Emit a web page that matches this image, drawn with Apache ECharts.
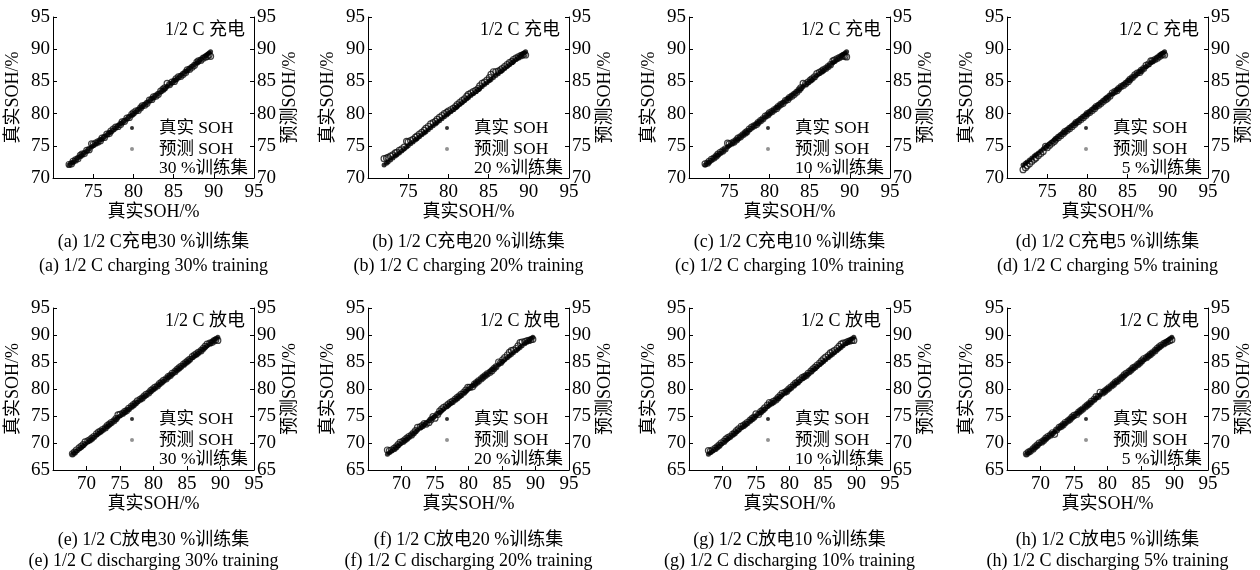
<!DOCTYPE html>
<html>
<head>
<meta charset="utf-8">
<script src="https://cdn.jsdelivr.net/npm/echarts@6/dist/echarts.min.js"></script>
<style>
  html, body { margin: 0; padding: 0; background: #fff; }
  #chart { width: 1260px; height: 570px; }
</style>
</head>
<body>
<div id="chart"></div>
<script>
// True SOH sequences (%) for the 1/2 C charging and discharging tests
const chargeTrue = [72.0, 72.3, 72.5, 72.8, 73.1, 73.4, 73.6, 73.9, 74.2, 74.5, 74.8, 75.0, 75.3, 75.6, 75.9, 76.1, 76.4, 76.7, 77.0, 77.2, 77.5, 77.8, 78.1, 78.4, 78.6, 78.9, 79.2, 79.5, 79.8, 80.0, 80.3, 80.6, 80.9, 81.1, 81.4, 81.7, 82.0, 82.3, 82.5, 82.8, 83.1, 83.4, 83.7, 83.9, 84.2, 84.5, 84.8, 85.1, 85.3, 85.6, 85.9, 86.2, 86.5, 86.7, 87.0, 87.3, 87.6, 87.9, 88.1, 88.4, 88.7, 89.0, 89.2, 89.4, 89.6];
const dischargeTrue = [67.9, 68.2, 68.5, 68.9, 69.2, 69.5, 69.8, 70.2, 70.5, 70.8, 71.1, 71.5, 71.8, 72.1, 72.4, 72.8, 73.1, 73.4, 73.7, 74.1, 74.4, 74.7, 75.0, 75.4, 75.7, 76.0, 76.3, 76.7, 77.0, 77.3, 77.6, 78.0, 78.3, 78.6, 78.9, 79.3, 79.6, 79.9, 80.2, 80.6, 80.9, 81.2, 81.5, 81.9, 82.2, 82.5, 82.8, 83.2, 83.5, 83.8, 84.1, 84.5, 84.8, 85.1, 85.4, 85.8, 86.1, 86.4, 86.7, 87.1, 87.4, 87.7, 88.0, 88.4, 88.7, 89.0, 89.3, 89.6];

// Predicted SOH (%) for each training-set share, aligned with the true sequences
const chargePred30 = [72.1, 72.2, 72.6, 72.8, 73.0, 73.5, 73.7, 73.8, 74.3, 74.4, 75.3, 75.2, 75.4, 75.6, 75.8, 76.2, 76.3, 76.8, 76.9, 77.3, 77.6, 77.9, 78.0, 78.3, 78.7, 78.8, 79.3, 79.4, 79.9, 80.1, 80.4, 80.5, 80.9, 81.2, 81.3, 81.6, 82.1, 82.2, 82.6, 82.7, 83.0, 83.5, 83.8, 84.0, 84.7, 84.5, 84.9, 85.0, 85.4, 85.7, 85.8, 86.1, 86.4, 86.8, 86.9, 87.2, 87.5, 88.0, 88.2, 88.3, 88.6, 88.8, 88.9, 89.1, 88.9];
const chargePred20 = [73.0, 73.1, 73.2, 73.4, 73.6, 73.9, 74.0, 74.3, 74.5, 74.8, 75.7, 75.6, 75.8, 76.0, 76.3, 76.5, 76.8, 77.1, 77.4, 77.7, 78.0, 78.4, 78.6, 78.8, 79.1, 79.4, 79.7, 80.0, 80.2, 80.4, 80.6, 80.8, 81.1, 81.4, 81.7, 82.0, 82.3, 82.7, 83.0, 83.2, 83.4, 83.6, 83.9, 84.3, 84.7, 84.9, 85.2, 85.6, 86.1, 86.5, 86.5, 86.6, 86.8, 87.0, 87.3, 87.6, 87.9, 88.1, 88.4, 88.6, 88.8, 89.0, 89.1, 89.2, 89.1];
const chargePred10 = [72.2, 72.3, 72.6, 72.9, 73.1, 73.4, 73.7, 74.0, 74.2, 74.5, 75.4, 75.3, 75.4, 75.6, 75.9, 76.2, 76.4, 76.7, 77.0, 77.2, 77.6, 77.9, 78.1, 78.3, 78.6, 78.9, 79.2, 79.6, 79.8, 80.1, 80.3, 80.6, 80.8, 81.1, 81.4, 81.6, 82.0, 82.2, 82.5, 82.7, 83.0, 83.3, 83.7, 84.0, 84.7, 84.6, 84.9, 85.2, 85.4, 85.7, 86.2, 86.4, 86.6, 86.8, 87.0, 87.3, 87.6, 88.2, 88.3, 88.5, 88.7, 88.9, 89.0, 88.9, 88.8];
const chargePred5 = [71.3, 71.6, 71.9, 72.2, 72.6, 72.9, 73.1, 73.5, 73.8, 74.1, 74.9, 74.7, 75.1, 75.4, 75.7, 76.0, 76.3, 76.6, 76.9, 77.2, 77.4, 77.7, 78.0, 78.3, 78.6, 78.8, 79.1, 79.4, 79.7, 80.0, 80.2, 80.5, 80.8, 81.1, 81.3, 81.6, 81.9, 82.2, 82.4, 82.7, 83.2, 83.4, 83.6, 83.9, 84.2, 84.4, 84.7, 85.0, 85.3, 85.6, 86.0, 86.3, 86.4, 86.7, 87.0, 87.5, 87.7, 88.2, 88.2, 88.4, 88.6, 88.9, 89.1, 89.2, 89.1];

const dischargePred30 = [68.0, 68.3, 68.7, 69.1, 69.4, 69.7, 70.2, 70.4, 70.6, 70.9, 71.2, 71.7, 72.0, 72.2, 72.5, 72.8, 73.2, 73.5, 73.8, 74.1, 74.5, 75.2, 75.3, 75.5, 75.8, 76.0, 76.4, 76.8, 77.1, 77.4, 77.8, 78.1, 78.3, 78.7, 79.0, 79.3, 79.7, 80.0, 80.3, 80.6, 81.0, 81.3, 81.6, 81.9, 82.3, 82.5, 82.9, 83.2, 83.6, 83.9, 84.2, 84.6, 84.9, 85.2, 85.5, 86.0, 86.3, 86.5, 86.8, 87.1, 87.5, 87.9, 88.3, 88.5, 88.6, 88.9, 89.1, 89.0];
const dischargePred20 = [68.7, 68.6, 68.7, 69.0, 69.3, 69.7, 70.1, 70.3, 70.6, 70.9, 71.2, 71.5, 71.9, 72.3, 72.9, 73.0, 73.2, 73.6, 73.5, 73.8, 74.3, 74.9, 74.6, 75.3, 75.9, 76.3, 76.6, 76.9, 77.2, 77.5, 77.7, 78.1, 78.4, 78.7, 79.0, 79.4, 79.8, 80.3, 80.3, 80.4, 80.9, 81.2, 81.5, 81.9, 82.2, 82.5, 82.8, 83.1, 83.4, 83.8, 84.1, 85.0, 84.9, 85.4, 85.8, 86.3, 86.8, 87.1, 87.2, 87.5, 88.0, 88.6, 88.7, 88.8, 88.9, 89.0, 89.1, 89.2];
const dischargePred10 = [68.6, 68.5, 68.7, 69.0, 69.3, 69.6, 70.0, 70.3, 70.7, 71.0, 71.2, 71.6, 71.9, 72.3, 72.6, 73.1, 73.2, 73.5, 73.8, 74.2, 74.5, 74.8, 75.4, 75.3, 75.8, 76.1, 76.5, 77.0, 77.5, 77.4, 77.7, 78.0, 78.4, 78.8, 79.2, 79.4, 79.6, 80.0, 80.3, 80.7, 81.1, 81.3, 81.7, 82.1, 82.3, 82.5, 82.9, 83.3, 83.7, 84.0, 84.4, 84.8, 85.2, 85.6, 85.9, 86.3, 86.7, 86.9, 87.1, 87.5, 87.9, 88.3, 88.5, 88.6, 88.8, 88.9, 89.0, 89.0];
const dischargePred5 = [68.0, 68.3, 68.5, 68.9, 69.3, 69.6, 70.0, 70.2, 70.5, 70.9, 71.2, 71.5, 71.9, 71.6, 72.4, 72.9, 73.1, 73.4, 73.8, 74.1, 74.4, 74.8, 75.1, 75.3, 75.7, 76.0, 76.3, 76.7, 77.0, 77.3, 77.7, 78.1, 78.6, 78.6, 79.4, 79.3, 79.6, 79.9, 80.2, 80.6, 80.9, 81.3, 81.5, 81.9, 82.2, 82.6, 82.9, 83.2, 83.5, 83.9, 84.1, 84.5, 84.8, 85.2, 85.6, 85.8, 86.1, 86.4, 86.7, 87.1, 87.5, 87.8, 88.1, 88.4, 88.6, 88.8, 89.0, 89.1];

// Panel text
const trainShares = ['30', '20', '10', '5'];
const panelLetters = ['a', 'b', 'c', 'd', 'e', 'f', 'g', 'h'];
const modeCn = ['充电', '放电'];
const modeEn = ['charging', 'discharging'];
const axisMins = [70, 65];
const axisMax = 95;
const axisStep = 5;

const chargePreds = [chargePred30, chargePred20, chargePred10, chargePred5];
const dischargePreds = [dischargePred30, dischargePred20, dischargePred10, dischargePred5];

// Layout
const FONT = '"Liberation Serif", "Times New Roman", "Noto Sans CJK SC", serif';
const gridLefts = [53, 368, 689, 1007];
const gridWidth = 201;
const rowTops = [17, 308];
const rowHeights = [161, 162];
const captionY = [[233, 257], [531, 552]];

const chart = echarts.init(document.getElementById('chart'), null, { renderer: 'canvas' });

const grids = [], xAxes = [], yAxes = [], series = [], legends = [], titles = [];

const axisLineStyle = { show: true, lineStyle: { color: '#000', width: 1 } };
const tickStyle = { show: true, inside: true, length: 4, lineStyle: { color: '#000', width: 1 } };
const nameStyle = { fontSize: 18, color: '#000', fontFamily: FONT };
const tickFont = { fontSize: 19, color: '#000', fontFamily: FONT };

for (let r = 0; r < 2; r++) {
  for (let c = 0; c < 4; c++) {
    const idx = r * 4 + c;
    const left = gridLefts[c];
    const top = rowTops[r];
    const right = left + gridWidth;
    const trueVals = r === 0 ? chargeTrue : dischargeTrue;
    const predVals = r === 0 ? chargePreds[c] : dischargePreds[c];
    const min = axisMins[r];

    grids.push({ left: left, top: top, width: gridWidth, height: rowHeights[r], containLabel: false });

    xAxes.push({
      gridIndex: idx, type: 'value', min: min, max: axisMax, interval: axisStep,
      axisLine: axisLineStyle, axisTick: tickStyle, splitLine: { show: false },
      axisLabel: Object.assign({ showMinLabel: false, margin: 5 }, tickFont),
      name: '真实SOH/%', nameLocation: 'middle', nameGap: 25, nameTextStyle: nameStyle
    });

    yAxes.push({
      gridIndex: idx, type: 'value', position: 'left', min: min, max: axisMax, interval: axisStep,
      axisLine: axisLineStyle, axisTick: tickStyle, splitLine: { show: false },
      axisLabel: Object.assign({ margin: 3 }, tickFont),
      name: '真实SOH/%', nameLocation: 'middle', nameRotate: 90, nameGap: 31, nameTextStyle: nameStyle
    });
    yAxes.push({
      gridIndex: idx, type: 'value', position: 'right', min: min, max: axisMax, interval: axisStep,
      axisLine: axisLineStyle, axisTick: tickStyle, splitLine: { show: false },
      axisLabel: Object.assign({ margin: 3 }, tickFont),
      name: '预测SOH/%', nameLocation: 'middle', nameRotate: 90, nameGap: 27, nameTextStyle: nameStyle
    });

    series.push({
      name: '预测 SOH', type: 'scatter', xAxisIndex: idx, yAxisIndex: idx * 2 + 1,
      data: trueVals.map((v, i) => [v, predVals[i]]),
      symbol: 'circle', symbolSize: 6,
      itemStyle: { color: 'rgba(255,255,255,0)', borderColor: '#111', borderWidth: 1.2 },
      silent: true, z: 2
    });
    series.push({
      name: '真实 SOH', type: 'scatter', xAxisIndex: idx, yAxisIndex: idx * 2,
      data: trueVals.map(v => [v, v]),
      symbol: 'circle', symbolSize: 5,
      itemStyle: { color: '#000' },
      silent: true, z: 3
    });

    legends.push({
      left: right - 124, top: top + 102, orient: 'vertical', padding: 0,
      itemWidth: 4, itemHeight: 4, itemGap: 3, selectedMode: false,
      data: [
        { name: '真实 SOH', icon: 'circle', itemStyle: { color: '#000', borderWidth: 0 } },
        { name: '预测 SOH', icon: 'circle', itemStyle: { color: '#777', borderWidth: 0 } }
      ],
      textStyle: { fontSize: 17.5, color: '#000', fontFamily: FONT, lineHeight: 18, padding: [0, 0, 0, 20] }
    });

    titles.push({
      text: '1/2 C ' + modeCn[r], left: right - 9, top: top + 4, textAlign: 'right', padding: 0,
      textStyle: { fontSize: 18, fontWeight: 'normal', color: '#000', fontFamily: FONT }
    });
    titles.push({
      text: trainShares[c] + ' %训练集', left: right - 6, top: top + 143, textAlign: 'right', padding: 0,
      textStyle: { fontSize: 17.5, fontWeight: 'normal', color: '#000', fontFamily: FONT }
    });
    const cx = left + gridWidth / 2;
    titles.push({
      text: '(' + panelLetters[idx] + ') 1/2 C' + modeCn[r] + trainShares[c] + ' %训练集',
      left: cx, top: captionY[r][0], textAlign: 'center', padding: 0,
      textStyle: { fontSize: 18, fontWeight: 'normal', color: '#000', fontFamily: FONT }
    });
    titles.push({
      text: '(' + panelLetters[idx] + ') 1/2 C ' + modeEn[r] + ' ' + trainShares[c] + '% training',
      left: cx, top: captionY[r][1], textAlign: 'center', padding: 0,
      textStyle: { fontSize: 18, fontWeight: 'normal', color: '#000', fontFamily: FONT }
    });
  }
}

chart.setOption({
  backgroundColor: '#fff',
  animation: false,
  title: titles,
  legend: legends,
  grid: grids,
  xAxis: xAxes,
  yAxis: yAxes,
  series: series
});
</script>
</body>
</html>
